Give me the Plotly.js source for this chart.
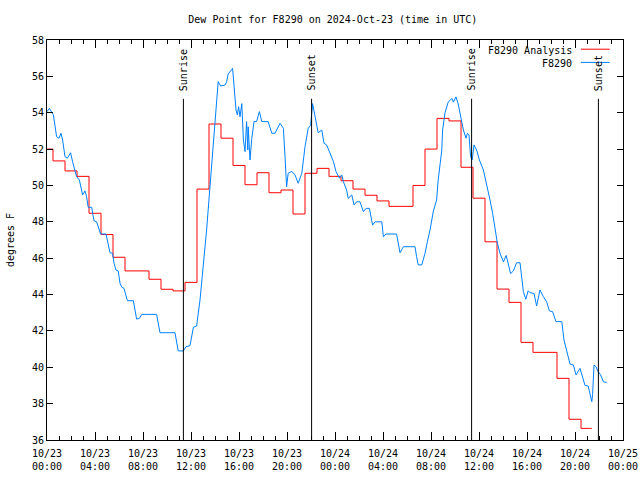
<!DOCTYPE html>
<html><head><meta charset="utf-8">
<script src="https://cdn.plot.ly/plotly-3.0.1.min.js"></script>
<style>body{margin:0;background:#fff}</style>
</head><body><div id="chart" style="width:640px;height:480px"></div>
<script>
// Hourly analysis dew point (hours since 2024-10-23 00:00 UTC)
const analysisHours = [0,1,2,3,4,5,6,7,8,9,10,11,12,13,14,15,16,17,18,19,20,21,22,23,24,25,26,27,28,29,30,31,32,33,34,35,36,37,38,39,40,41,42,43,44,45,45.4];
const analysisDewpt = [52.0,51.35,50.8,50.5,48.47,47.3,46.05,45.3,45.3,44.84,44.29,44.2,44.67,49.8,53.38,52.6,51.1,50.04,50.7,49.6,49.75,48.43,50.67,50.94,50.5,50.26,49.8,49.46,49.15,48.85,48.85,50.0,52.0,53.69,53.55,51.0,49.3,46.9,44.3,43.57,41.37,40.82,40.82,39.39,37.14,36.64,36.64];

// Station observations (minutes since 2024-10-23 00:00 UTC)
const obsMinutes = [0,12,32,48,60,70,78,90,102,118,128,140,148,162,174,178,190,198,206,224,228,235,248,256,268,295,306,315,328,335,345,356,365,374,385,395,402,432,440,448,462,474,548,556,565,640,648,656,682,695,715,724,732,748,756,765,798,815,832,845,856,868,890,898,906,928,935,945,952,958,965,974,982,990,998,1004,1006,1015,1024,1035,1048,1062,1074,1106,1124,1140,1165,1182,1190,1198,1206,1224,1240,1256,1274,1290,1306,1318,1328,1335,1345,1356,1374,1385,1398,1415,1432,1445,1462,1474,1482,1498,1506,1524,1535,1548,1565,1582,1595,1612,1628,1640,1674,1682,1695,1748,1756,1765,1782,1840,1848,1856,1874,1890,1902,1915,1932,1948,1956,1974,1978,1990,2006,2024,2032,2045,2056,2068,2082,2095,2102,2110,2118,2126,2135,2148,2162,2182,2198,2215,2228,2240,2252,2265,2282,2296,2306,2318,2332,2348,2365,2374,2382,2394,2406,2415,2435,2448,2465,2482,2498,2512,2528,2545,2574,2585,2595,2606,2615,2632,2645,2665,2678,2690,2706,2715,2724,2728,2735,2745,2756,2768,2782,2798];
const obsDewpt = [54.06,54.24,53.88,52.68,52.6,52.87,52.5,51.58,51.5,51.8,51.3,50.76,50.48,50.3,49.57,49.48,49.7,49.38,48.8,48.8,48.47,48.06,48.0,47.73,47.33,47.33,46.82,46.3,46.27,45.72,45.35,45.3,44.62,44.4,44.34,43.97,43.66,43.66,43.15,42.65,42.69,42.91,42.91,42.42,41.9,41.9,41.32,40.9,40.9,41.13,41.19,41.68,42.2,42.27,42.87,43.7,47.55,49.93,51.95,54.24,55.71,55.47,55.52,55.7,56.13,56.44,55.6,54.15,53.88,54.33,53.78,54.5,52.5,51.86,53.51,51.95,53.23,51.4,52.59,53.51,53.51,54.06,53.51,53.51,52.87,52.87,53.42,53.14,51.58,49.93,50.67,50.77,50.58,50.12,50.67,52.13,53.14,53.3,54.5,54.1,53.6,52.9,53.05,52.32,52.23,51.77,51.32,50.76,50.4,50.58,50.2,49.75,49.29,49.48,48.93,49.1,49.1,48.56,48.74,48.74,47.82,48.0,48.0,47.18,47.33,47.33,46.82,46.3,46.63,46.63,46.08,45.63,45.63,46.27,46.91,47.55,48.6,49.2,50.3,51.95,53.05,54.0,54.58,54.79,54.58,54.87,54.48,53.88,53.05,52.6,52.87,52.78,51.58,51.4,52.23,51.95,51.4,50.85,50.12,49.2,48.47,47.64,46.82,46.27,45.8,46.15,45.63,45.15,45.3,45.75,45.75,44.95,44.16,43.74,44.21,44.1,44.06,43.37,44.25,43.88,43.61,43.1,43.06,42.51,42.51,41.5,41.04,40.62,40.18,40.12,39.58,39.94,39.39,39.0,38.97,38.48,38.11,38.5,40.12,40.03,39.76,39.58,39.2,39.17];

const eventTimes = ["2024-10-23 11:22","2024-10-23 22:03","2024-10-24 11:23","2024-10-24 21:57"];
const eventLabels = ["Sunrise","Sunset","Sunrise","Sunset"];
const seriesNames = ["F8290 Analysis","F8290"];
const seriesColors = ["#ff0000","#0080ff"];

const base = Date.UTC(2024,9,23,0,0,0);
function stamp(ms){ return new Date(base+ms).toISOString().slice(0,19).replace('T',' '); }
const analysisX = analysisHours.map(h=>stamp(h*3600000));
const obsX = obsMinutes.map(m=>stamp(m*60000));

const FONT = "DejaVu Sans Mono, monospace";

const traces = [
  {x: analysisX, y: analysisDewpt, name: seriesNames[0], mode:'lines',
   line:{color:seriesColors[0], width:1, shape:'hvh'}},
  {x: obsX, y: obsDewpt, name: seriesNames[1], mode:'lines',
   line:{color:seriesColors[1], width:1}}
];

const shapes = [];
const annotations = [];
eventTimes.forEach((t,i)=>{
  shapes.push({type:'line', xref:'x', yref:'paper', x0:t, x1:t, y0:0, y1:0.853,
    line:{color:'#000', width:1}});
  annotations.push({xref:'x', yref:'paper', x:t, y:0.868, text:eventLabels[i],
    textangle:-90, showarrow:false, xanchor:'center', yanchor:'bottom',
    font:{family:FONT, size:10, color:'#000'}});
});
// key (gnuplot style: text then sample line)
const keyY = [0.977, 0.944];
seriesNames.forEach((n,i)=>{
  annotations.push({xref:'paper', yref:'paper', x:0.915, y:keyY[i], yshift:-1.5, text:n,
    showarrow:false, xanchor:'right', yanchor:'middle',
    font:{family:FONT, size:10, color:'#000'}});
  shapes.push({type:'line', xref:'paper', yref:'paper', x0:0.927, x1:0.977,
    y0:keyY[i], y1:keyY[i], line:{color:seriesColors[i], width:1}});
});

const layout = {
  width:640, height:480,
  margin:{l:47, r:17, t:40, b:40, pad:0},
  paper_bgcolor:'#fff', plot_bgcolor:'#fff',
  showlegend:false,
  font:{family:FONT, size:10, color:'#000'},
  title:{text:'Dew Point for F8290 on 2024-Oct-23 (time in UTC)', x:0.52, xanchor:'center', y:0.96, yanchor:'middle',
    font:{family:FONT, size:10, color:'#000'}},
  xaxis:{type:'date', range:['2024-10-23 00:00','2024-10-25 00:00'],
    tick0:'2024-10-23 00:00', dtick:14400000, tickformat:'%m/%d<br>%H:%M',
    ticks:'inside', ticklen:8, tickcolor:'#000', showline:true, linecolor:'#000', linewidth:1,
    mirror:'ticks', showgrid:false, zeroline:false, automargin:false, ticklabelstandoff:4,
    tickfont:{family:FONT, size:10, color:'#000'},
    minor:{dtick:3600000, ticks:'inside', ticklen:4, tickcolor:'#000', showgrid:false}},
  yaxis:{range:[36,58], dtick:2, tick0:36, ticks:'inside', ticklen:6, tickcolor:'#000',
    showline:true, linecolor:'#000', linewidth:1, mirror:'ticks', showgrid:false, zeroline:false,
    automargin:false, tickfont:{family:FONT, size:10, color:'#000'},
    title:{text:'degrees F', standoff:15, font:{family:FONT, size:10, color:'#000'}}},
  shapes: shapes,
  annotations: annotations
};
Plotly.newPlot('chart', traces, layout, {displayModeBar:false, staticPlot:true});
</script>
</body></html>
